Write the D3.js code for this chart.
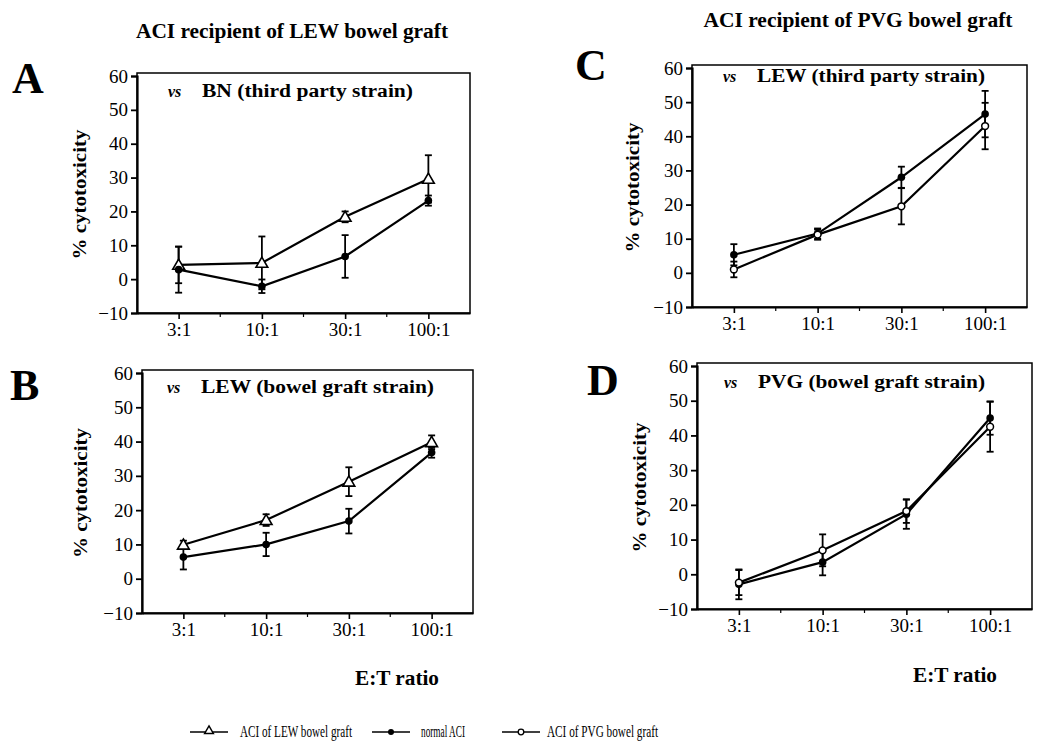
<!DOCTYPE html>
<html><head><meta charset="utf-8">
<script src="https://cdn.jsdelivr.net/npm/d3@7"></script>
<style>body{margin:0;background:#fff}svg{display:block}</style>
</head><body><svg id="c" width="1050" height="753"></svg>
<script>
const categories = ["3:1","10:1","30:1","100:1"];
const yTicks = [-10,0,10,20,30,40,50,60];
const seriesNames = ["ACI of LEW bowel graft","normal ACI","ACI of PVG bowel graft"];
// Panel A
const A_lew = [4.2,4.8,18.4,29.6];   const A_lewErr = [5.4,7.8,1.6,7.0];
const A_normal = [2.8,-2.1,6.7,23.2]; const A_normalErr = [6.8,2.0,6.3,1.5];
// Panel B
const B_lew = [9.9,17.1,28.3,39.8];  const B_lewErr = [1.2,1.7,4.2,2.0];
const B_normal = [6.3,10.0,16.8,36.8]; const B_normalErr = [3.6,3.4,3.6,1.5];
// Panel C
const C_normal = [5.3,11.5,28.0,46.5]; const C_normalErr = [3.1,1.5,3.1,6.8];
const C_pvg = [1.0,11.2,19.5,43.0];   const C_pvgErr = [2.3,1.5,5.3,6.8];
// Panel D
const D_normal = [-2.9,3.5,17.3,45.0]; const D_normalErr = [4.3,3.8,4.2,4.8];
const D_pvg = [-2.4,6.9,18.2,42.5];    const D_pvgErr = [3.6,4.6,3.4,7.2];

const svg = d3.select("#c");
const serif = "'Liberation Serif','Times New Roman',serif";

const panels = [
  {letter:"A", lx:12, ly:93, left:137, right:470, top:76, bottom:313, ylabX:82,
   sub:"BN (third party strain)", subX:168, subY:97, subW:211,
   series:[{v:A_lew,e:A_lewErr,m:"tri"},{v:A_normal,e:A_normalErr,m:"fill"}]},
  {letter:"B", lx:10, ly:400, left:142, right:473, top:373, bottom:613, ylabX:83,
   sub:"LEW (bowel graft strain)", subX:167, subY:393, subW:233,
   series:[{v:B_lew,e:B_lewErr,m:"tri"},{v:B_normal,e:B_normalErr,m:"fill"}]},
  {letter:"C", lx:575, ly:80, left:692, right:1027, top:68, bottom:307, ylabX:635,
   sub:"LEW (third party strain)", subX:723, subY:82, subW:228,
   series:[{v:C_normal,e:C_normalErr,m:"fill"},{v:C_pvg,e:C_pvgErr,m:"open"}]},
  {letter:"D", lx:587, ly:395, left:697, right:1032, top:366, bottom:609, ylabX:642,
   sub:"PVG (bowel graft strain)", subX:724, subY:388, subW:227,
   series:[{v:D_normal,e:D_normalErr,m:"fill"},{v:D_pvg,e:D_pvgErr,m:"open"}]}
];

function marker(g, type, x, y){
  if(type==="tri"){
    g.append("path").attr("d", d3.symbol(d3.symbolTriangle, 60)()).attr("transform",`translate(${x},${y+1})`)
      .attr("fill","#fff").attr("stroke","#000").attr("stroke-width",1.6);
  } else if(type==="fill"){
    g.append("circle").attr("cx",x).attr("cy",y).attr("r",3.8).attr("fill","#000");
  } else {
    g.append("circle").attr("cx",x).attr("cy",y).attr("r",3.4).attr("fill","#fff").attr("stroke","#000").attr("stroke-width",1.5);
  }
}

panels.forEach(p=>{
  const x = d3.scalePoint().domain(categories).range([p.left,p.right]).padding(0.5);
  const y = d3.scaleLinear().domain([-10,60]).range([p.bottom,p.top]);
  const g = svg.append("g");
  g.append("text").attr("x",p.lx).attr("y",p.ly).text(p.letter)
    .attr("font-family",serif).attr("font-weight","bold").attr("font-size",44);
  g.append("rect").attr("x",p.left).attr("y",p.top-3).attr("width",p.right-p.left).attr("height",p.bottom-p.top+3)
    .attr("fill","none").attr("stroke","#000").attr("stroke-width",1.5);
  const ya = g.append("g").attr("transform",`translate(${p.left},0)`)
    .call(d3.axisLeft(y).tickValues(yTicks).tickSize(6).tickPadding(3).tickFormat(d3.format("d")));
  ya.attr("font-size",19).attr("font-family",serif);
  ya.select(".domain").attr("stroke-width",2.2);
  ya.selectAll("line").attr("stroke-width",1.8);
  ya.selectAll("text").attr("font-family",serif).attr("font-size",19).attr("fill","#000");
  const xa = g.append("g").attr("transform",`translate(0,${p.bottom})`)
    .call(d3.axisBottom(x).tickSize(6).tickPadding(4).tickSizeOuter(0));
  xa.attr("font-size",19).attr("font-family",serif);
  xa.select(".domain").attr("stroke-width",2.2);
  xa.selectAll("line").attr("stroke-width",1.6);
  xa.selectAll("text").attr("font-family",serif).attr("font-size",19).attr("fill","#000");
  const mids = categories.slice(0,-1).map((c,i)=>(x(c)+x(categories[i+1]))/2);
  g.selectAll(".minor").data(mids).join("line").attr("x1",d=>d).attr("x2",d=>d)
    .attr("y1",p.bottom).attr("y2",p.bottom+4).attr("stroke","#000").attr("stroke-width",1.2);
  g.append("text").attr("transform",`translate(${p.ylabX},${(p.top+p.bottom)/2}) rotate(-90)`)
    .attr("text-anchor","middle").attr("dominant-baseline","middle")
    .attr("font-family",serif).attr("font-weight","bold").attr("font-size",19)
    .attr("textLength",130).attr("lengthAdjust","spacingAndGlyphs").text("% cytotoxicity");
  g.append("text").attr("x",p.subX).attr("y",p.subY).attr("font-family",serif)
    .attr("font-weight","bold").attr("font-style","italic").attr("font-size",16).text("vs");
  g.append("text").attr("x",p.subX+34).attr("y",p.subY).attr("font-family",serif)
    .attr("font-weight","bold").attr("font-size",18).attr("textLength",p.subW)
    .attr("lengthAdjust","spacingAndGlyphs").text(p.sub);
  p.series.forEach(s=>{
    const pts = categories.map((c,i)=>[x(c), y(s.v[i])]);
    g.append("path").attr("d", d3.line()(pts)).attr("fill","none").attr("stroke","#000").attr("stroke-width",2.2);
    categories.forEach((c,i)=>{
      const cx = x(c), y1 = y(s.v[i]+s.e[i]), y2 = y(s.v[i]-s.e[i]);
      g.append("line").attr("x1",cx).attr("x2",cx).attr("y1",y1).attr("y2",y2).attr("stroke","#000").attr("stroke-width",1.8);
      [y1,y2].forEach(yy=>g.append("line").attr("x1",cx-3.5).attr("x2",cx+3.5).attr("y1",yy).attr("y2",yy).attr("stroke","#000").attr("stroke-width",1.8));
    });
  });
  p.series.forEach(s=>{
    categories.forEach((c,i)=>marker(g, s.m, x(c), y(s.v[i])));
  });
});

svg.append("text").attr("x",292).attr("y",38).attr("text-anchor","middle").attr("font-family",serif)
  .attr("font-weight","bold").attr("font-size",20).attr("textLength",312).attr("lengthAdjust","spacingAndGlyphs")
  .text("ACI recipient of LEW bowel graft");
svg.append("text").attr("x",858).attr("y",27).attr("text-anchor","middle").attr("font-family",serif)
  .attr("font-weight","bold").attr("font-size",20).attr("textLength",309).attr("lengthAdjust","spacingAndGlyphs")
  .text("ACI recipient of PVG bowel graft");
[[397,685],[955,682]].forEach(([cx,by])=>svg.append("text").attr("x",cx).attr("y",by).attr("text-anchor","middle")
  .attr("font-family",serif).attr("font-weight","bold").attr("font-size",20).attr("textLength",84)
  .attr("lengthAdjust","spacingAndGlyphs").text("E:T ratio"));

const legend = [
  {name:seriesNames[0], m:"tri", x1:190, x2:228, tx:240, tw:112},
  {name:seriesNames[1], m:"fill", x1:372, x2:410, tx:421, tw:44},
  {name:seriesNames[2], m:"open", x1:502, x2:540, tx:547, tw:111}
];
const lg = svg.append("g");
legend.forEach(l=>{
  lg.append("line").attr("x1",l.x1).attr("x2",l.x2).attr("y1",732).attr("y2",732).attr("stroke","#000").attr("stroke-width",1.6);
  if(l.m==="tri"){
    lg.append("path").attr("d", d3.symbol(d3.symbolTriangle, 34)()).attr("transform",`translate(${(l.x1+l.x2)/2},${731})`)
      .attr("fill","#fff").attr("stroke","#000").attr("stroke-width",1.4);
  } else if(l.m==="fill"){
    lg.append("circle").attr("cx",(l.x1+l.x2)/2).attr("cy",732).attr("r",3).attr("fill","#000");
  } else {
    lg.append("circle").attr("cx",(l.x1+l.x2)/2).attr("cy",732).attr("r",2.8).attr("fill","#fff").attr("stroke","#000").attr("stroke-width",1.3);
  }
  lg.append("text").attr("x",l.tx).attr("y",737).attr("font-family",serif).attr("font-size",16)
    .attr("textLength",l.tw).attr("lengthAdjust","spacingAndGlyphs").text(l.name);
});
</script></body></html>
